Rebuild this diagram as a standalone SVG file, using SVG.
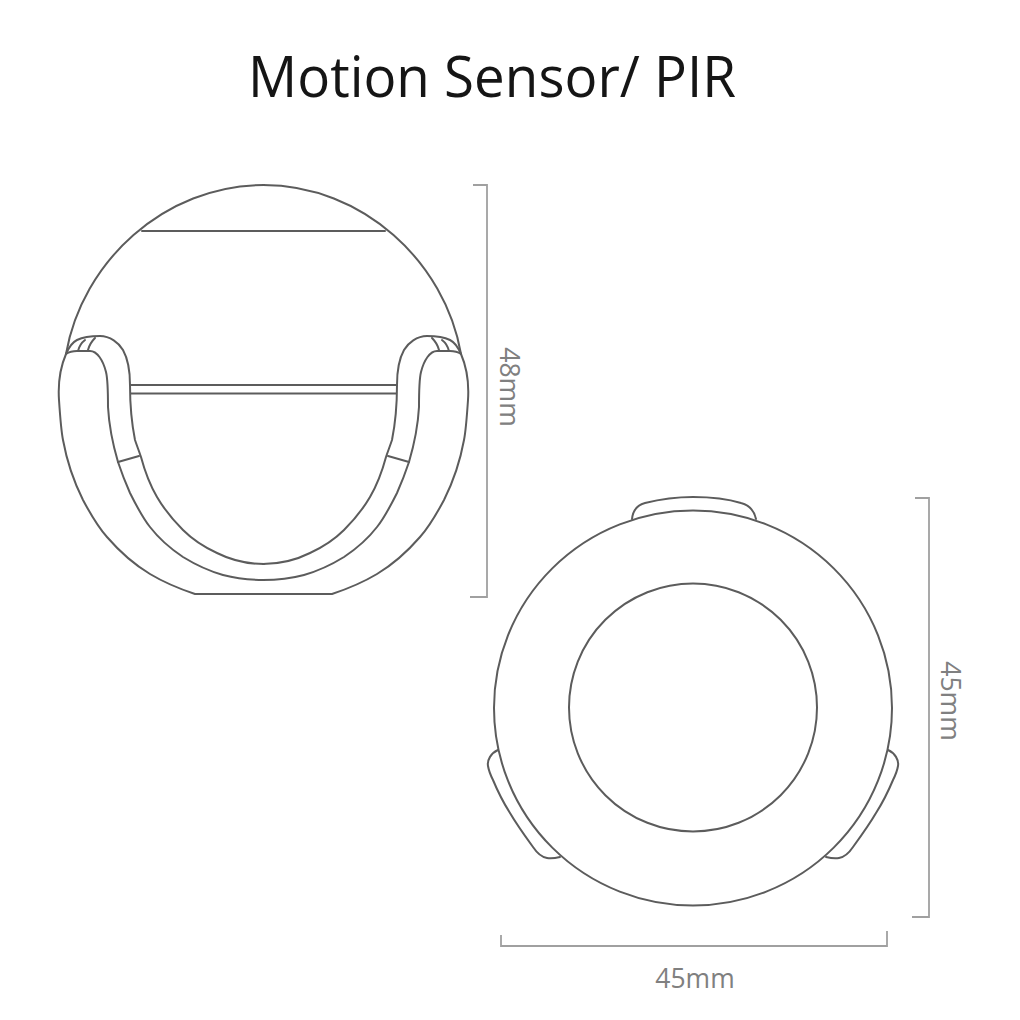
<svg xmlns="http://www.w3.org/2000/svg" width="1020" height="1020" viewBox="0 0 1020 1020">
<style>
.t{font-family:"Open Sans","Liberation Sans",sans-serif}
.d{fill:#808080;font-size:26.500px}
.l{fill:none;stroke:#5c5c5c;stroke-width:2;stroke-linecap:round;stroke-linejoin:round}
.m{fill:none;stroke:#a0a0a0;stroke-width:1.800}
</style>
<defs>
<g id="half" class="l">
<path d="M264 185C164 185 82 262 66 354C60 368 58 385 59 400C60 415 61 430 63 440C67 462 74 482 83 500C91 515 98 527 107 537C120 552 135 565 150 574C165 583 180 589 195 594H264"/>
<path d="M66 354C69 352 73 351 77 351L90 351C97 351 103 360 106 372C108 380 108 393 108 407C109 425 113 445 118 462C122 474 126 484 130 493C136 505 142 517 150 527C160 540 171 549 183 557C196 565 209 571 223 575C238 579 251 580 264 580"/>
<path d="M66 354C69 347 73 342 77 340C83 337 91 336 100 336C110 336 119 343 123 350C128 359 130 368 130 385C130 403 131 420 135 440C137 446 139 451 141 457C145 472 150 485 157 497C164 509 173 520 183 530C193 540 204 547 217 553C231 560 248 564 264 564"/>
<path d="M78 351C79 347 81 343 85 340M88 350C89 346 91 342 95 338"/>
<path d="M118 462L139 456"/>
</g>
<g id="tab" class="l">
<path d="M498 750C491 753 487 760 488 766C489 772 491 776 493 780C498 792 503 802 510 813C517 825 525 836 533 847C537 853 541 857 547 858C552 859 556 858 560 857"/>
</g>
</defs>
<rect width="1020" height="1020" fill="#fff"/>
<text id="title" class="t" x="492" y="97" font-size="57.500" fill="#151515" text-anchor="middle" textLength="488" lengthAdjust="spacingAndGlyphs">Motion Sensor/ PIR</text>
<g id="side-view">
<use href="#half"/>
<use href="#half" transform="matrix(-1 0 0 1 527 0)"/>
<path class="l" d="M142 231H385"/>
<path class="l" d="M131 385H396M131 393.500H396"/>
</g>
<g id="top-view">
<ellipse class="l" cx="693" cy="708" rx="199" ry="197.500"/>
<circle class="l" cx="693" cy="707.500" r="124"/>
<path class="l" d="M632 519C633 510 637 505 645 503C665 498 680 497 693 497C710 497 728 499 741 503C749 505 754 510 756 519"/>
<use href="#tab"/>
<use href="#tab" transform="matrix(-1 0 0 1 1386 0)"/>
</g>
<g id="dimensions">
<path class="m" d="M473 185H487V597H470"/>
<path class="m" d="M915 498H929V917H912"/>
<path class="m" d="M501 935V946H887V931"/>
<text class="t d" transform="translate(500 387) rotate(90)" text-anchor="middle">48mm</text>
<text class="t d" transform="translate(941 701) rotate(90)" text-anchor="middle">45mm</text>
<text class="t d" x="695" y="988" text-anchor="middle">45mm</text>
</g>
</svg>
